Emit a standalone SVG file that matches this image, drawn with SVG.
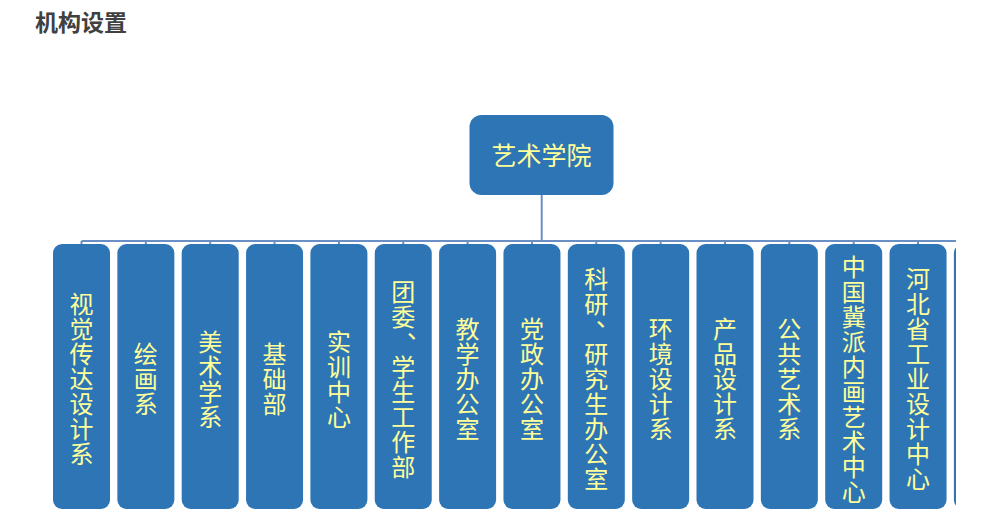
<svg xmlns="http://www.w3.org/2000/svg" width="1002" height="525" viewBox="0 0 1002 525">
<style>
.title{font-family:"Noto Sans CJK SC","Noto Sans",sans-serif;font-size:23px;font-weight:bold;fill:#404040}
.box{fill:#2e75b6}
.vt{font-family:"Noto Sans CJK SC","Noto Sans",sans-serif;font-size:24px;fill:#ffff99;text-anchor:middle;dominant-baseline:central}
.top{font-family:"Noto Sans CJK SC","Noto Sans",sans-serif;font-size:25px;fill:#ffff99;text-anchor:middle;dominant-baseline:central}
.conn{stroke:#6a8fc4;stroke-width:2;fill:none}
</style>
<defs><clipPath id="cut"><rect x="0" y="0" width="956" height="525"/></clipPath></defs>
<rect width="1002" height="525" fill="#ffffff"/>
<text class="title" x="35" y="31">机构设置</text>
<g clip-path="url(#cut)">
<g id="connectors">
<path class="conn" d="M541.7,195 V241 M81.5,241 H956"/>
<path class="conn" d="M81.5,241V244 M145.85,241V244 M210.2,241V244 M274.55,241V244 M338.9,241V244 M403.25,241V244 M467.6,241V244 M531.95,241V244 M596.3,241V244 M660.65,241V244 M725,241V244 M789.35,241V244 M853.7,241V244 M918.05,241V244 M982.4,241V244"/>
</g>
<g id="root"><rect class="box" x="469.5" y="115" width="144" height="80" rx="12"/><text class="top" x="541.5" y="154">艺术学院</text></g>
<g id="n0"><rect class="box" x="53" y="244" width="57" height="265" rx="9"/><text class="vt"><tspan x="81.5" y="302">视</tspan><tspan x="81.5" y="327">觉</tspan><tspan x="81.5" y="352">传</tspan><tspan x="81.5" y="377">达</tspan><tspan x="81.5" y="402">设</tspan><tspan x="81.5" y="427">计</tspan><tspan x="81.5" y="452">系</tspan></text></g>
<g id="n1"><rect class="box" x="117.35" y="244" width="57" height="265" rx="9"/><text class="vt"><tspan x="145.85" y="352">绘</tspan><tspan x="145.85" y="377">画</tspan><tspan x="145.85" y="402">系</tspan></text></g>
<g id="n2"><rect class="box" x="181.7" y="244" width="57" height="265" rx="9"/><text class="vt"><tspan x="210.2" y="339.5">美</tspan><tspan x="210.2" y="364.5">术</tspan><tspan x="210.2" y="389.5">学</tspan><tspan x="210.2" y="414.5">系</tspan></text></g>
<g id="n3"><rect class="box" x="246.05" y="244" width="57" height="265" rx="9"/><text class="vt"><tspan x="274.55" y="352">基</tspan><tspan x="274.55" y="377">础</tspan><tspan x="274.55" y="402">部</tspan></text></g>
<g id="n4"><rect class="box" x="310.4" y="244" width="57" height="265" rx="9"/><text class="vt"><tspan x="338.9" y="339.5">实</tspan><tspan x="338.9" y="364.5">训</tspan><tspan x="338.9" y="389.5">中</tspan><tspan x="338.9" y="414.5">心</tspan></text></g>
<g id="n5"><rect class="box" x="374.75" y="244" width="57" height="265" rx="9"/><text class="vt"><tspan x="403.25" y="289.5">团</tspan><tspan x="403.25" y="314.5">委</tspan><tspan x="419" y="327">、</tspan><tspan x="403.25" y="364.5">学</tspan><tspan x="403.25" y="389.5">生</tspan><tspan x="403.25" y="414.5">工</tspan><tspan x="403.25" y="439.5">作</tspan><tspan x="403.25" y="464.5">部</tspan></text></g>
<g id="n6"><rect class="box" x="439.1" y="244" width="57" height="265" rx="9"/><text class="vt"><tspan x="467.6" y="327">教</tspan><tspan x="467.6" y="352">学</tspan><tspan x="467.6" y="377">办</tspan><tspan x="467.6" y="402">公</tspan><tspan x="467.6" y="427">室</tspan></text></g>
<g id="n7"><rect class="box" x="503.45" y="244" width="57" height="265" rx="9"/><text class="vt"><tspan x="531.95" y="327">党</tspan><tspan x="531.95" y="352">政</tspan><tspan x="531.95" y="377">办</tspan><tspan x="531.95" y="402">公</tspan><tspan x="531.95" y="427">室</tspan></text></g>
<g id="n8"><rect class="box" x="567.8" y="244" width="57" height="265" rx="9"/><text class="vt"><tspan x="596.3" y="277">科</tspan><tspan x="596.3" y="302">研</tspan><tspan x="608" y="315">、</tspan><tspan x="596.3" y="352">研</tspan><tspan x="596.3" y="377">究</tspan><tspan x="596.3" y="402">生</tspan><tspan x="596.3" y="427">办</tspan><tspan x="596.3" y="452">公</tspan><tspan x="596.3" y="477">室</tspan></text></g>
<g id="n9"><rect class="box" x="632.15" y="244" width="57" height="265" rx="9"/><text class="vt"><tspan x="660.65" y="327">环</tspan><tspan x="660.65" y="352">境</tspan><tspan x="660.65" y="377">设</tspan><tspan x="660.65" y="402">计</tspan><tspan x="660.65" y="427">系</tspan></text></g>
<g id="n10"><rect class="box" x="696.5" y="244" width="57" height="265" rx="9"/><text class="vt"><tspan x="725" y="327">产</tspan><tspan x="725" y="352">品</tspan><tspan x="725" y="377">设</tspan><tspan x="725" y="402">计</tspan><tspan x="725" y="427">系</tspan></text></g>
<g id="n11"><rect class="box" x="760.85" y="244" width="57" height="265" rx="9"/><text class="vt"><tspan x="789.35" y="327">公</tspan><tspan x="789.35" y="352">共</tspan><tspan x="789.35" y="377">艺</tspan><tspan x="789.35" y="402">术</tspan><tspan x="789.35" y="427">系</tspan></text></g>
<g id="n12"><rect class="box" x="825.2" y="244" width="57" height="265" rx="9"/><text class="vt"><tspan x="853.7" y="264.5">中</tspan><tspan x="853.7" y="289.5">国</tspan><tspan x="853.7" y="314.5">冀</tspan><tspan x="853.7" y="339.5">派</tspan><tspan x="853.7" y="364.5">内</tspan><tspan x="853.7" y="389.5">画</tspan><tspan x="853.7" y="414.5">艺</tspan><tspan x="853.7" y="439.5">术</tspan><tspan x="853.7" y="464.5">中</tspan><tspan x="853.7" y="489.5">心</tspan></text></g>
<g id="n13"><rect class="box" x="889.55" y="244" width="57" height="265" rx="9"/><text class="vt"><tspan x="918.05" y="277">河</tspan><tspan x="918.05" y="302">北</tspan><tspan x="918.05" y="327">省</tspan><tspan x="918.05" y="352">工</tspan><tspan x="918.05" y="377">业</tspan><tspan x="918.05" y="402">设</tspan><tspan x="918.05" y="427">计</tspan><tspan x="918.05" y="452">中</tspan><tspan x="918.05" y="477">心</tspan></text></g>
<g id="n14"><rect class="box" x="953.9" y="244" width="57" height="265" rx="9"/></g>
</g>
</svg>
